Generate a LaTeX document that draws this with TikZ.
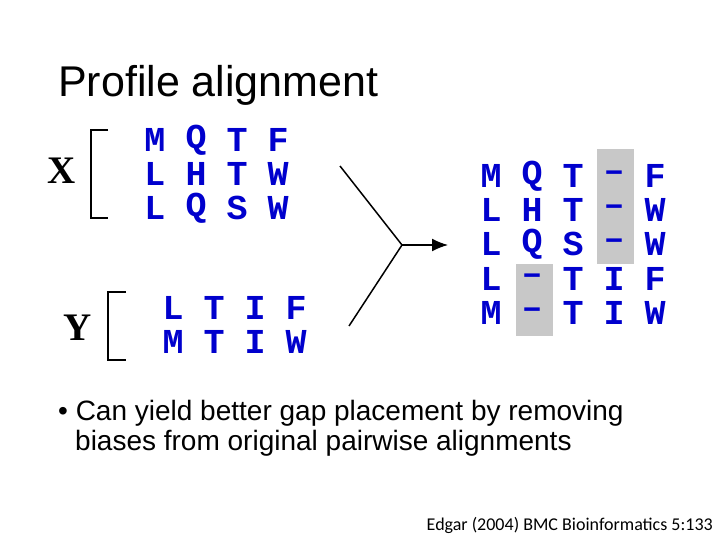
\documentclass[tikz,border=0pt]{standalone}
\usepackage{fontspec}
\usetikzlibrary{arrows.meta}
\setmainfont{Liberation Sans}
\newfontfamily\monobfont{Liberation Mono}
\newfontfamily\carlitofont{Carlito}
\newfontfamily\serfont{Liberation Serif}
\definecolor{seqblue}{RGB}{0,0,205}
\definecolor{gapgray}{RGB}{200,200,200}
\begin{document}
\begin{tikzpicture}[x=1pt,y=-1pt,
  res/.style={font=\monobfont\bfseries\fontsize{35}{35}\selectfont,text=seqblue,inner sep=0pt,anchor=center},
  lab/.style={font=\serfont\bfseries\fontsize{39}{39}\selectfont,inner sep=0pt},
  brk/.style={line width=1.5pt},
  ln/.style={line width=1.5pt}]
\useasboundingbox (0,0) rectangle (720,540);
\fill[white] (0,0) rectangle (720,540);
\node[anchor=base west,font=\fontsize{43}{43}\selectfont,inner sep=0pt] (title) at (58,97) {Profile alignment};
% gray boxes
\fill[gapgray] (597,149) rectangle (634,264);
\fill[gapgray] (516,264) rectangle (553,336);
% X
\node[lab] (X) at (62,171) {X};
\draw[brk] (108,130) -- (91,130) -- (91,218) -- (108,218);
\foreach \r/\s [count=\i] in {140/{M,Q,T,F},174/{L,H,T,W},208/{L,Q,S,W}}{
  \foreach \c [count=\j] in \s { \node[res] (x\i\j) at (114+41*\j,\r) {\c}; } }
% Y
\node[lab] (Y) at (78,328) {Y};
\draw[brk] (126,292) -- (108,292) -- (108,360) -- (126,360);
\foreach \r/\s [count=\i] in {308/{L,T,I,F},342/{M,T,I,W}}{
  \foreach \c [count=\j] in \s { \node[res] (y\i\j) at (132+41*\j,\r) {\c}; } }
% result
\foreach \r/\s [count=\i] in {176/{M,Q,T,–,F},210/{L,H,T,–,W},244/{L,Q,S,–,W},279/{L,–,T,I,F},313/{M,–,T,I,W}}{
  \foreach \c [count=\j] in \s { \node[res] (r\i\j) at (450+41*\j,\r) {\c}; } }
% arrows
\coordinate (a1) at (340,166);
\coordinate (j) at (402,245);
\coordinate (a2) at (349,326);
\coordinate (e) at (448,245);
\draw[ln] (a1) -- (j) -- (a2);
\draw[ln,-{Latex[length=16pt,width=13pt]}] (j) -- (e);
% bullet
\node[anchor=base west,font=\fontsize{28}{28}\selectfont,inner sep=0pt] (b1) at (58,420) {\textbullet\ Can yield better gap placement by removing};
\node[anchor=base west,font=\fontsize{28}{28}\selectfont,inner sep=0pt] (b2) at (75,450) {biases from original pairwise alignments};
\node[anchor=base east,font=\carlitofont\fontsize{18}{18}\selectfont,inner sep=0pt] (cite) at (713,530) {Edgar (2004) BMC Bioinformatics 5:133};
\end{tikzpicture}
\end{document}
